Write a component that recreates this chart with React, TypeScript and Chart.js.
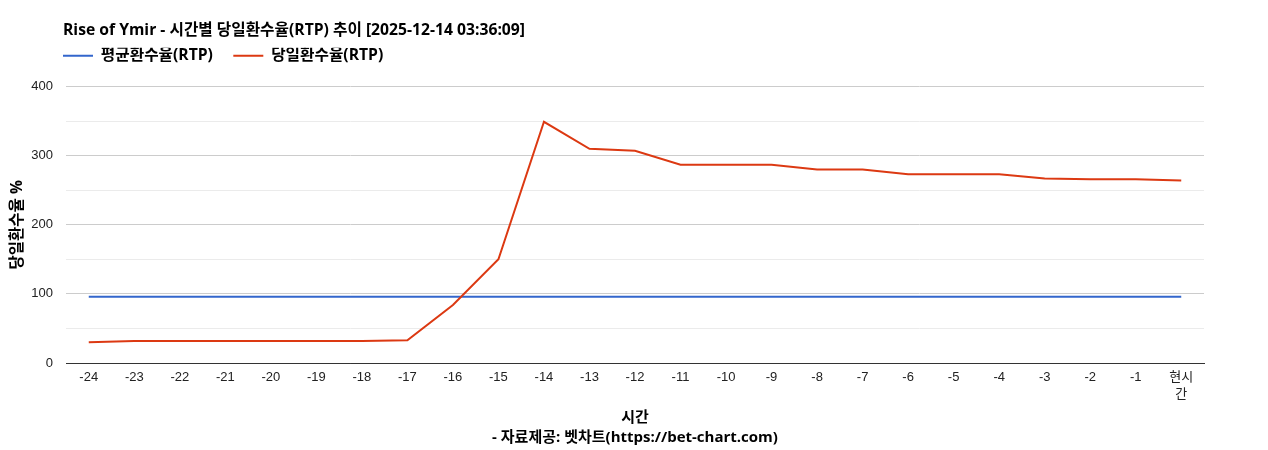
import { useEffect, useRef } from 'react';
import { Chart, ChartConfiguration, registerables } from 'chart.js';

Chart.register(...registerables);

const hours = ['-24', '-23', '-22', '-21', '-20', '-19', '-18', '-17', '-16', '-15', '-14', '-13', '-12', '-11', '-10', '-9', '-8', '-7', '-6', '-5', '-4', '-3', '-2', '-1', ['현시', '간']];
const avgRtp = [96, 96, 96, 96, 96, 96, 96, 96, 96, 96, 96, 96, 96, 96, 96, 96, 96, 96, 96, 96, 96, 96, 96, 96, 96];
const dailyRtp = [30, 32, 32, 32, 32, 32, 32, 33, 84, 150, 349, 310, 307, 287, 287, 287, 280, 280, 273, 273, 273, 267, 266, 266, 264];
const seriesNames = ['평균환수율(RTP)', '당일환수율(RTP)'];
const seriesColors = ['#3366cc', '#dc3912'];

const TICK_FONT = '"Liberation Sans", Arial, "Noto Sans CJK KR", sans-serif';
const BOLD_FONT = '"Open Sans", "Noto Sans CJK KR", sans-serif';

// legend has no option for space under it, so stretch its box a bit,
// and pull title + legend slightly left of the plot edge
const headerTweaks = {
  id: 'headerTweaks',
  afterInit(chart: any) {
    const legend = chart.legend;
    if (!legend) return;
    const fit = legend.fit;
    legend.fit = function () {
      fit.call(this);
      this.height += 13;
    };
  },
  afterLayout(chart: any) {
    if (chart.legend) chart.legend.left -= 3;
    if (chart.titleBlock) chart.titleBlock.left -= 3;
  },
};

export default function App() {
  const canvasRef = useRef<HTMLCanvasElement>(null);
  const chartRef = useRef<Chart | null>(null);

  useEffect(() => {
    if (!canvasRef.current) return;
    // chart fills the whole window
    document.body.style.margin = '0';

    const config: ChartConfiguration = {
      type: 'line',
      data: {
        labels: hours as any,
        datasets: [
          {
            label: seriesNames[0],
            data: avgRtp,
            borderColor: seriesColors[0],
            backgroundColor: seriesColors[0],
            borderWidth: 2,
            pointRadius: 0,
            tension: 0,
            order: 1,
          },
          {
            label: seriesNames[1],
            data: dailyRtp,
            borderColor: seriesColors[1],
            backgroundColor: seriesColors[1],
            borderWidth: 2,
            pointRadius: 0,
            tension: 0,
            order: 0,
          },
        ],
      },
      options: {
        responsive: true,
        maintainAspectRatio: false,
        animation: false,
        layout: { padding: { left: 0, right: 64, top: 0, bottom: 0 } },
        plugins: {
          title: {
            display: true,
            text: 'Rise of Ymir - 시간별 당일환수율(RTP) 추이 [2025-12-14 03:36:09]',
            align: 'start',
            fullSize: false,
            color: '#000',
            font: { family: BOLD_FONT, size: 15.7, weight: 'bold', lineHeight: 1.2 },
            padding: { top: 21, bottom: 8 },
          },
          subtitle: {
            display: true,
            position: 'bottom',
            text: '- 자료제공: 벳차트(https://bet-chart.com)',
            fullSize: false,
            color: '#000',
            font: { family: BOLD_FONT, size: 15, weight: 'bold', lineHeight: 1.2 },
            padding: { top: 0, bottom: 3.5 },
          },
          legend: {
            display: true,
            align: 'start',
            fullSize: false,
            labels: {
              boxWidth: 30,
              boxHeight: 2,
              padding: 0,
              color: '#000',
              font: { family: BOLD_FONT, size: 15.7, weight: 'bold' },
              generateLabels: (chart) =>
                chart.data.datasets.map((ds, i) => ({
                  text: (ds.label as string) + (i < chart.data.datasets.length - 1 ? '     ' : ''),
                  fillStyle: seriesColors[i],
                  strokeStyle: seriesColors[i],
                  lineWidth: 0,
                  datasetIndex: i,
                  hidden: false,
                })),
            },
          },
          tooltip: { enabled: false },
        },
        scales: {
          x: {
            offset: true,
            grid: { display: false, drawTicks: false },
            border: { color: '#333', width: 1 },
            ticks: {
              color: '#222',
              autoSkip: false,
              maxRotation: 0,
              padding: 6,
              font: { family: TICK_FONT, size: 13, lineHeight: 1.3 },
            },
            title: {
              display: true,
              text: '시간',
              color: '#000',
              font: { family: BOLD_FONT, size: 15, weight: 'bold', lineHeight: 1.2 },
              padding: { top: 0, bottom: 1.5 },
            },
            afterFit: (scale) => {
              scale.height = 65.5;
            },
          },
          y: {
            min: 0,
            max: 400,
            border: { display: false },
            grid: {
              drawTicks: false,
              color: (ctx) => {
                const v = ctx.tick ? ctx.tick.value : 1;
                if (v === 0) return '#333';
                return v % 100 === 0 ? '#cccccc' : '#ebebeb';
              },
            },
            ticks: {
              stepSize: 50,
              color: '#222',
              padding: 13,
              font: { family: TICK_FONT, size: 13 },
              callback: (value) => (Number(value) % 100 === 0 ? String(value) : ''),
            },
            title: {
              display: true,
              text: '당일환수율 %',
              color: '#000',
              font: { family: BOLD_FONT, size: 15.5, weight: 'bold', lineHeight: 1.2 },
              padding: { top: 8, bottom: 0 },
            },
            afterFit: (scale) => {
              scale.width = 66;
            },
          },
        },
      },
      plugins: [headerTweaks],
    };

    if (chartRef.current) chartRef.current.destroy();
    chartRef.current = new Chart(canvasRef.current, config);

    return () => {
      if (chartRef.current) {
        chartRef.current.destroy();
        chartRef.current = null;
      }
    };
  }, []);

  return (
    <div style={{ position: 'relative', width: '100%', height: 450 }}>
      <canvas ref={canvasRef} />
    </div>
  );
}
